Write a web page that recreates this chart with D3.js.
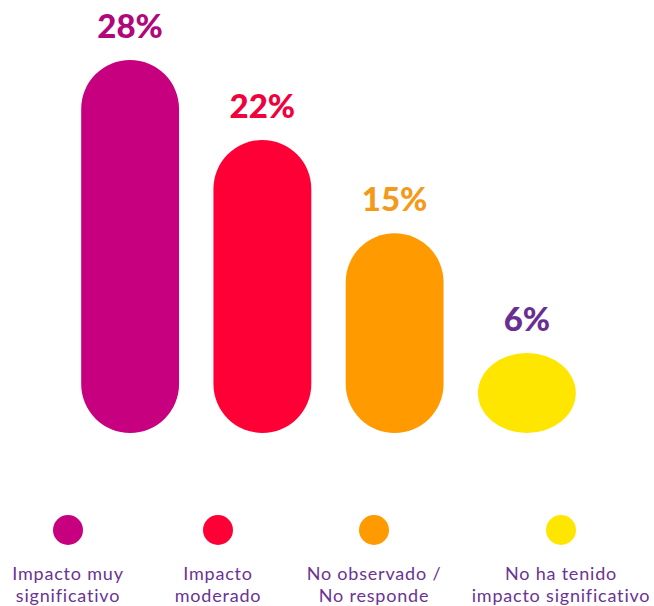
<!DOCTYPE html>
<html>
<head>
<meta charset="utf-8">
<script src="https://cdn.jsdelivr.net/npm/d3@7"></script>
<style>
  html, body { margin: 0; padding: 0; background: #ffffff; }
  svg { display: block; }
</style>
</head>
<body>
<svg id="chart" width="654" height="606"></svg>
<script>
// ---- data ----
const categories = ["Impacto muy significativo", "Impacto moderado", "No observado / No responde", "No ha tenido impacto significativo"];
const values = [28, 22, 15, 6];
const valueLabels = ["28%", "22%", "15%", "6%"];
const legendLines = [["Impacto muy", "significativo"], ["Impacto", "moderado"], ["No observado /", "No responde"], ["No ha tenido", "impacto significativo"]];

// ---- styles ----
const barColors = ["#C6007E", "#FF0036", "#FF9A00", "#FFE600"];
const labelColors = ["#B0087A", "#F0003C", "#F39A1A", "#6A2D91"];
const legendTextColor = "#6B3393";

const svg = d3.select("#chart");

const x = d3.scaleBand().domain(categories).range([64, 593]).paddingInner(0.26).paddingOuter(0.13);
const y = d3.scaleLinear().domain([0, 28]).range([433, 60]);
const color = d3.scaleOrdinal().domain(categories).range(barColors);
const labelColor = d3.scaleOrdinal().domain(categories).range(labelColors);
const legendX = d3.scaleOrdinal().domain(categories).range([68, 218, 374, 561]);

const data = categories.map((c, i) => ({ cat: c, value: values[i], label: valueLabels[i], lines: legendLines[i] }));

// bars (pill shapes)
svg.append("g").selectAll("rect").data(data).join("rect")
  .attr("x", d => x(d.cat))
  .attr("y", d => y(d.value))
  .attr("width", x.bandwidth())
  .attr("height", d => y(0) - y(d.value))
  .attr("rx", x.bandwidth() / 2)
  .attr("ry", d => Math.min(x.bandwidth() / 2, (y(0) - y(d.value)) / 2))
  .attr("fill", d => color(d.cat));

// value labels
svg.append("g").selectAll("text").data(data).join("text")
  .attr("x", d => x(d.cat) + x.bandwidth() / 2)
  .attr("y", d => y(d.value) - 22)
  .attr("text-anchor", "middle")
  .attr("font-family", "Lato, 'Open Sans', sans-serif")
  .attr("font-weight", 900)
  .attr("font-size", 33)
  .attr("fill", d => labelColor(d.cat))
  .text(d => d.label);

// legend
const lg = svg.append("g").selectAll("g").data(data).join("g")
  .attr("transform", d => `translate(${legendX(d.cat)},0)`);
lg.append("circle").attr("cx", 0).attr("cy", 530).attr("r", 15).attr("fill", d => color(d.cat));
lg.append("text")
  .attr("text-anchor", "middle")
  .attr("font-family", "Lato, 'Open Sans', sans-serif")
  .attr("font-size", 18)
  .attr("letter-spacing", 0.8)
  .attr("fill", legendTextColor)
  .selectAll("tspan").data(d => d.lines).join("tspan")
  .attr("x", 0)
  .attr("y", (d, i) => 580 + i * 22)
  .text(d => d);
</script>
</body>
</html>
